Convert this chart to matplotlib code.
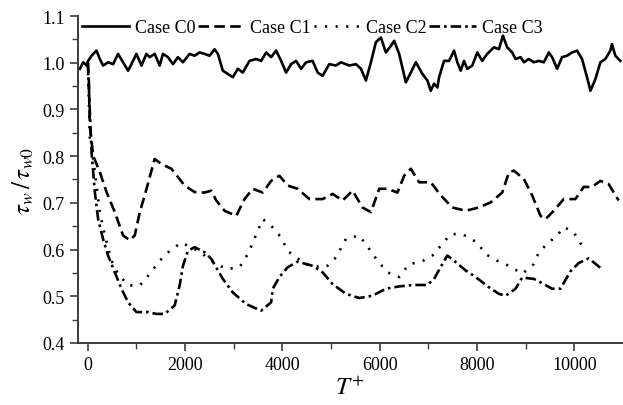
import numpy as np
import matplotlib
matplotlib.use("Agg")
import matplotlib.pyplot as plt
from matplotlib.ticker import MultipleLocator

# Case C0 (solid)
t_c0 = [-164, -96, -27, 6, 76, 178, 246, 314, 416, 519, 621, 724, 827, 896, 999,
        1101, 1204, 1272, 1374, 1477, 1544, 1647, 1750, 1852, 1955, 2092, 2194,
        2297, 2400, 2502, 2605, 2673, 2775, 2878, 2980, 3083, 3185, 3323, 3460,
        3563, 3665, 3768, 3870, 3973, 4075, 4178, 4280, 4383, 4486, 4621, 4724,
        4826, 4963, 5101, 5203, 5374, 5511, 5614, 5716, 5819, 5921, 6024, 6126,
        6229, 6297, 6399, 6537, 6639, 6742, 6877, 6980, 7049, 7117, 7185, 7220,
        7322, 7425, 7527, 7595, 7665, 7732, 7800, 7903, 8005, 8108, 8210, 8348,
        8450, 8532, 8620, 8723, 8793, 8895, 8963, 9065, 9168, 9270, 9373, 9476,
        9543, 9646, 9748, 9851, 9953, 10056, 10159, 10261, 10331, 10433, 10536,
        10638, 10741, 10774, 10843, 10946]
y_c0 = [0.987, 1.001, 0.994, 1.004, 1.015, 1.026, 1.008, 0.994, 1.001, 0.997,
        1.019, 1.001, 0.983, 0.997, 1.019, 0.994, 1.019, 1.012, 1.019, 0.994,
        1.019, 1.012, 0.997, 1.012, 1.001, 1.019, 1.015, 1.022, 1.019, 1.015,
        1.029, 1.019, 0.983, 0.976, 0.969, 0.987, 0.979, 1.004, 1.008, 1.004,
        1.022, 1.012, 1.026, 1.004, 0.979, 0.997, 1.004, 0.987, 1.001, 1.004,
        0.979, 0.972, 0.997, 0.994, 1.001, 0.994, 0.997, 0.987, 0.962, 1.001,
        1.044, 1.054, 1.022, 1.036, 1.047, 1.019, 0.958, 0.979, 1.001, 0.976,
        0.962, 0.940, 0.955, 0.947, 0.969, 1.004, 1.004, 1.026, 1.001, 0.983,
        1.004, 0.987, 0.994, 1.022, 1.004, 1.019, 1.033, 1.029, 1.058, 1.033,
        1.022, 1.008, 1.012, 1.001, 1.008, 1.001, 1.004, 1.001, 1.022, 1.012,
        0.987, 1.012, 1.015, 1.022, 1.026, 1.008, 0.969, 0.940, 0.965, 1.001,
        1.008, 1.026, 1.040, 1.015, 1.004]

# Case C1 (dashed)
t_c1 = [0, 20, 41, 109, 246, 384, 554, 724, 861, 964, 1067, 1169, 1272, 1374,
        1512, 1717, 1989, 2194, 2400, 2537, 2640, 2810, 3050, 3220, 3390, 3595,
        3768, 3938, 4108, 4313, 4553, 4826, 5031, 5237, 5441, 5646, 5819, 5989,
        6159, 6364, 6502, 6639, 6809, 7049, 7254, 7492, 7767, 8040, 8280, 8518,
        8655, 8758, 8963, 9133, 9305, 9408, 9578, 9783, 10023, 10193, 10364,
        10536, 10706, 10911]
y_c1 = [1.0, 0.965, 0.865, 0.801, 0.766, 0.723, 0.680, 0.630, 0.620, 0.630,
        0.680, 0.716, 0.755, 0.794, 0.783, 0.773, 0.737, 0.723, 0.722, 0.726,
        0.705, 0.683, 0.672, 0.708, 0.730, 0.722, 0.747, 0.758, 0.737, 0.730,
        0.708, 0.708, 0.719, 0.705, 0.726, 0.690, 0.680, 0.730, 0.730, 0.722,
        0.758, 0.773, 0.744, 0.744, 0.716, 0.690, 0.683, 0.690, 0.701, 0.722,
        0.765, 0.769, 0.751, 0.716, 0.672, 0.665, 0.683, 0.708, 0.708, 0.734,
        0.734, 0.747, 0.740, 0.705]

# Case C2 (dotted)
t_c2 = [0, 41, 109, 178, 246, 349, 486, 621, 827, 1067, 1272, 1477, 1682, 1922,
        2332, 2467, 2845, 3118, 3288, 3390, 3493, 3595, 3768, 3973, 4108, 4348,
        4553, 4896, 5101, 5306, 5579, 5784, 5955, 6159, 6399, 6604, 6844, 7082,
        7254, 7459, 7697, 8005, 8177, 8415, 8655, 8928, 9168, 9270, 9441, 9646,
        9783, 9988, 10159]
y_c2 = [1.0, 0.837, 0.794, 0.737, 0.680, 0.630, 0.576, 0.548, 0.523, 0.523,
        0.548, 0.576, 0.597, 0.615, 0.594, 0.580, 0.558, 0.562, 0.590, 0.615,
        0.640, 0.665, 0.651, 0.626, 0.597, 0.578, 0.565, 0.562, 0.583, 0.623,
        0.630, 0.601, 0.576, 0.551, 0.541, 0.569, 0.573, 0.587, 0.608, 0.633,
        0.633, 0.615, 0.590, 0.576, 0.565, 0.548, 0.569, 0.594, 0.612, 0.630,
        0.648, 0.637, 0.608]

# Case C3 (dash-dot)
t_c3 = [0, 76, 144, 211, 314, 416, 554, 691, 827, 999, 1237, 1409, 1579, 1784,
        1887, 1955, 2057, 2194, 2400, 2537, 2775, 2980, 3255, 3563, 3768, 3801,
        3938, 4108, 4313, 4621, 4826, 5031, 5306, 5579, 5852, 6126, 6399, 6707,
        6980, 7117, 7288, 7390, 7562, 7767, 7972, 8245, 8450, 8587, 8792, 8928,
        9168, 9373, 9543, 9714, 9919, 10090, 10296, 10569]
y_c3 = [1.0, 0.808, 0.723, 0.665, 0.622, 0.587, 0.551, 0.516, 0.487, 0.466,
        0.466, 0.462, 0.462, 0.480, 0.523, 0.565, 0.597, 0.605, 0.594, 0.580,
        0.537, 0.508, 0.483, 0.469, 0.487, 0.516, 0.541, 0.562, 0.574, 0.565,
        0.551, 0.526, 0.505, 0.496, 0.501, 0.516, 0.521, 0.524, 0.524, 0.537,
        0.569, 0.587, 0.573, 0.555, 0.541, 0.519, 0.505, 0.501, 0.516, 0.540,
        0.537, 0.526, 0.516, 0.516, 0.553, 0.571, 0.581, 0.558]

plt.rcParams['font.family'] = ['Liberation Serif', 'DejaVu Serif']
plt.rcParams['mathtext.fontset'] = 'stix'

fig = plt.figure(figsize=(6.23, 4.06), dpi=100)
ax = fig.add_axes([0.125, 0.153, 0.873, 0.805])

lw = 1.9
ax.plot(t_c0, y_c0, color='black', lw=lw, label='Case C0')
ax.plot(t_c1, y_c1, color='black', lw=lw, dashes=(4, 2), label='Case C1')
ax.plot(t_c2, y_c2, color='black', lw=lw, dashes=(0.8, 3.2), label='Case C2')
ax.plot(t_c3, y_c3, color='black', lw=lw, dashes=(4, 1.5, 1, 1.5), label='Case C3')

ax.set_xlim(-205, 10975)
ax.set_ylim(0.4, 1.1)
ax.xaxis.set_major_locator(MultipleLocator(2000))
ax.xaxis.set_minor_locator(MultipleLocator(1000))
ax.yaxis.set_major_locator(MultipleLocator(0.1))
ax.yaxis.set_minor_locator(MultipleLocator(0.05))

for s in ['top', 'right']:
    ax.spines[s].set_visible(False)
for s in ['left', 'bottom']:
    ax.spines[s].set_color('#3a3a3a')
    ax.spines[s].set_linewidth(1.4)
ax.tick_params(which='major', direction='out', length=6, width=1.2,
               colors='#3a3a3a', labelsize=13, labelcolor='black')
ax.tick_params(which='minor', direction='out', length=4, width=1.0, colors='#3a3a3a')

ax.set_xlabel(r'$T^{+}$', fontsize=18, labelpad=2)
ax.set_ylabel(r'$\tau_w\,/\,\tau_{w0}$', fontsize=18, labelpad=4)

ax.legend(loc='upper left', bbox_to_anchor=(-0.005, 1.012), ncol=4, frameon=False,
          fontsize=13, handlelength=2.6, handletextpad=0.3, columnspacing=0.15,
          borderaxespad=0.0)

fig.savefig('out.png', dpi=100)
